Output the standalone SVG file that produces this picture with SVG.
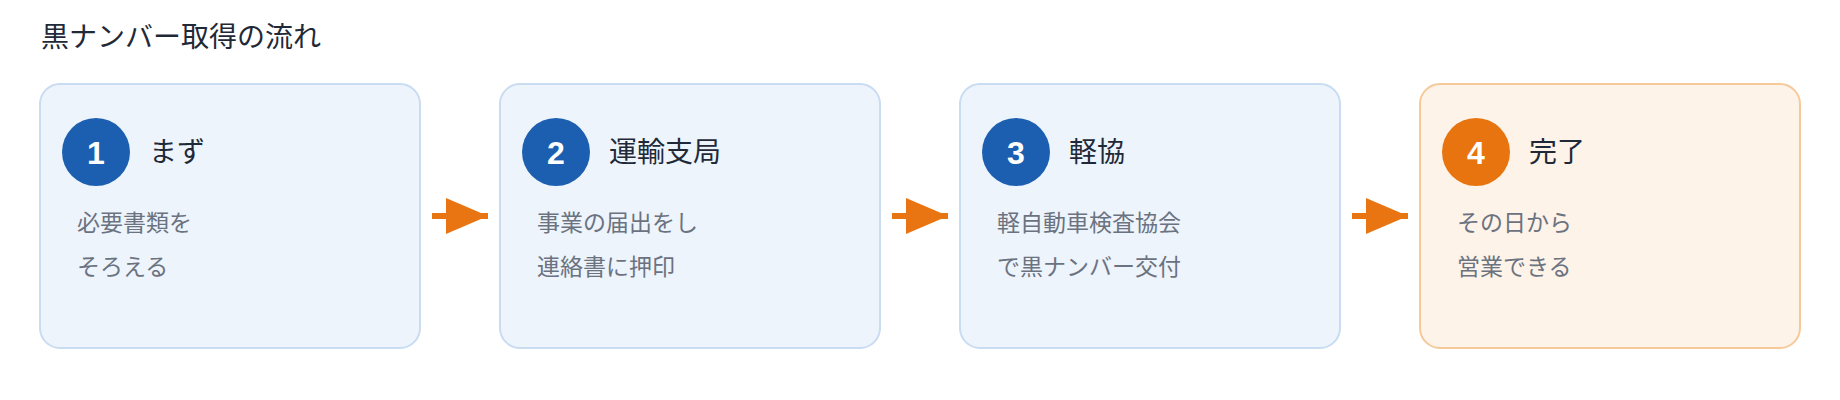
<svg xmlns="http://www.w3.org/2000/svg" width="1840" height="400" viewBox="0 0 1840 400">
<style>
text{font-family:"Noto Sans CJK JP","Noto Sans",sans-serif}
.card{fill:#edf4fc;stroke:#c9dcf2;stroke-width:2}
.card.o{fill:#fdf3e8;stroke:#f5c99a}
.num{fill:#fff;font-size:32px;font-weight:bold;text-anchor:middle;font-family:"Liberation Sans",sans-serif}
.t{fill:#1f2937;font-size:28px}
.b{fill:#6b7280;font-size:23px}
.ln{stroke:#e87511;stroke-width:6}
.ar{fill:#e87511}
</style>
<rect width="1840" height="400" fill="#fff"/>
<text x="41" y="47" style="fill:#1f2937;font-size:28px">黒ナンバー取得の流れ</text>
<g id="n1"><rect class="card" x="40" y="84" width="380" height="264" rx="20"/><circle cx="96" cy="152" r="34" fill="#1c5fb0"/><text class="num" x="96" y="164">1</text><text class="t" x="149" y="162">まず</text><text class="b" x="77" y="231">必要書類を</text><text class="b" x="77" y="275">そろえる</text></g>
<g id="n2"><rect class="card" x="500" y="84" width="380" height="264" rx="20"/><circle cx="556" cy="152" r="34" fill="#1c5fb0"/><text class="num" x="556" y="164">2</text><text class="t" x="609" y="162">運輸支局</text><text class="b" x="537" y="231">事業の届出をし</text><text class="b" x="537" y="275">連絡書に押印</text></g>
<g id="n3"><rect class="card" x="960" y="84" width="380" height="264" rx="20"/><circle cx="1016" cy="152" r="34" fill="#1c5fb0"/><text class="num" x="1016" y="164">3</text><text class="t" x="1069" y="162">軽協</text><text class="b" x="997" y="231">軽自動車検査協会</text><text class="b" x="997" y="275">で黒ナンバー交付</text></g>
<g id="n4"><rect class="card o" x="1420" y="84" width="380" height="264" rx="20"/><circle cx="1476" cy="152" r="34" fill="#e8740f"/><text class="num" x="1476" y="164">4</text><text class="t" x="1529" y="162">完了</text><text class="b" x="1457" y="231">その日から</text><text class="b" x="1457" y="275">営業できる</text></g>
<g id="connectors">
<line class="ln" x1="432" y1="216" x2="488" y2="216"/><polygon class="ar" points="446,198 488,216 446,234"/>
<line class="ln" x1="892" y1="216" x2="948" y2="216"/><polygon class="ar" points="906,198 948,216 906,234"/>
<line class="ln" x1="1352" y1="216" x2="1408" y2="216"/><polygon class="ar" points="1366,198 1408,216 1366,234"/>
</g>
</svg>
